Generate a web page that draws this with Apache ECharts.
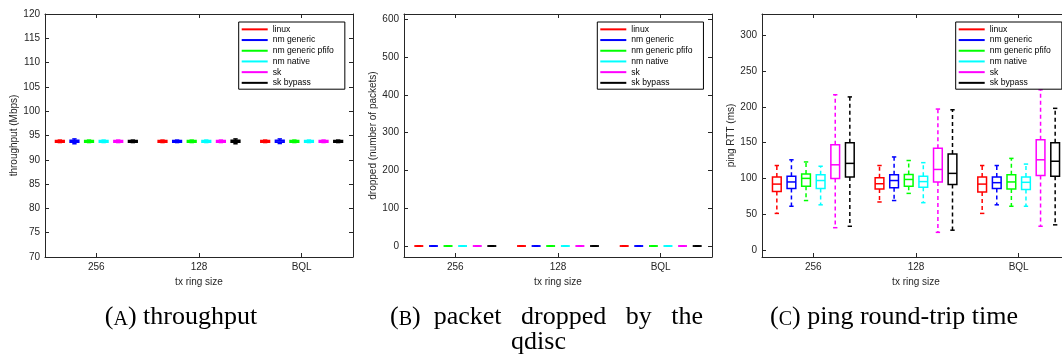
<!DOCTYPE html>
<html>
<head>
<meta charset="utf-8">
<script src="https://cdn.jsdelivr.net/npm/echarts@6/dist/echarts.min.js"></script>
<style>
  html, body { margin: 0; padding: 0; background: #ffffff; }
  #chart { width: 1062px; height: 356px; }
</style>
</head>
<body>
<div id="chart"></div>
<script>
// ---------------- data ----------------
const categories = ['256', '128', 'BQL'];
const seriesNames = ['linux', 'nm generic', 'nm generic pfifo', 'nm native', 'sk', 'sk bypass'];

// tick labels
const throughputTicks = [70, 75, 80, 85, 90, 95, 100, 105, 110, 115, 120];
const droppedTicks = [0, 100, 200, 300, 400, 500, 600];
const rttTicks = [0, 50, 100, 150, 200, 250, 300];

// (A) throughput (Mbps): [min, q1, median, q3, max] for 256, 128, BQL
const tpLinux     = [[93.55, 93.62, 93.8, 93.95, 94.05], [93.55, 93.62, 93.8, 93.95, 94.05], [93.55, 93.62, 93.8, 93.95, 94.05]];
const tpNmGeneric = [[93.3, 93.6, 93.8, 94.0, 94.3],     [93.55, 93.62, 93.8, 93.95, 94.05], [93.35, 93.6, 93.85, 94.0, 94.3]];
const tpNmPfifo   = [[93.55, 93.62, 93.8, 93.95, 94.05], [93.55, 93.62, 93.8, 93.95, 94.05], [93.55, 93.62, 93.8, 93.95, 94.05]];
const tpNmNative  = [[93.55, 93.62, 93.8, 93.95, 94.05], [93.55, 93.62, 93.8, 93.95, 94.05], [93.55, 93.62, 93.8, 93.95, 94.05]];
const tpSk        = [[93.55, 93.62, 93.8, 93.95, 94.05], [93.55, 93.62, 93.8, 93.95, 94.05], [93.55, 93.62, 93.8, 93.95, 94.05]];
const tpSkBypass  = [[93.55, 93.62, 93.8, 93.95, 94.05], [93.3, 93.6, 93.8, 94.0, 94.3],     [93.55, 93.62, 93.8, 93.95, 94.05]];

// (B) packets dropped by the qdisc
const dropLinux     = [[0, 0, 0, 0, 0], [0, 0, 0, 0, 0], [0, 0, 0, 0, 0]];
const dropNmGeneric = [[0, 0, 0, 0, 0], [0, 0, 0, 0, 0], [0, 0, 0, 0, 0]];
const dropNmPfifo   = [[0, 0, 0, 0, 0], [0, 0, 0, 0, 0], [0, 0, 0, 0, 0]];
const dropNmNative  = [[0, 0, 0, 0, 0], [0, 0, 0, 0, 0], [0, 0, 0, 0, 0]];
const dropSk        = [[0, 0, 0, 0, 0], [0, 0, 0, 0, 0], [0, 0, 0, 0, 0]];
const dropSkBypass  = [[0, 0, 0, 0, 0], [0, 0, 0, 0, 0], [0, 0, 0, 0, 0]];

// (C) ping RTT (ms)
const rttLinux     = [[51, 81.5, 92, 102, 118], [67, 85, 92.5, 101, 118],   [51, 81, 92, 102, 118]];
const rttNmGeneric = [[61, 86, 95, 103, 126],   [69, 87, 97, 105, 130],     [63, 86, 94, 102, 118]];
const rttNmPfifo   = [[69, 89, 100, 106, 123],  [79, 89, 98.5, 105.5, 125], [61, 85, 95, 105, 128]];
const rttNmNative  = [[63, 86, 97, 105, 117],   [66, 87.5, 95.5, 103, 122], [61, 84.5, 94.5, 102, 120]];
const rttSk        = [[31, 100, 119, 147, 217], [24.5, 95, 112.5, 142, 197],[33, 104, 126, 154, 224]];
const rttSkBypass  = [[33, 102, 121, 150, 214], [27.5, 91.5, 107, 134, 196],[35, 103, 124, 150, 198]];

// ---------------- style ----------------
const colors = ['#ff0000', '#0000ff', '#00ff00', '#00ffff', '#ff00ff', '#000000'];
const sans = 'Liberation Sans';
const serif = 'Liberation Serif';
const axisColor = '#262626';

function makeRender(k) {
  return function (params, api) {
    const cat = api.value(0);
    const band = api.size([1, 0])[0];
    const cx = api.coord([cat, api.value(3)])[0] + (k - 2.5) * 0.1422 * band;
    const hw = 0.0425 * band;
    const cw = hw * 0.5;
    const y = [1, 2, 3, 4, 5].map(function (d) { return api.coord([cat, api.value(d)])[1]; });
    const color = api.visual('color');
    const solid = { stroke: color, lineWidth: 1.5, fill: null };
    const dash = { stroke: color, lineWidth: 1.5, lineDash: [4, 3], fill: null };
    return {
      type: 'group',
      children: [
        { type: 'line', shape: { x1: cx, y1: y[3], x2: cx, y2: y[4] }, style: dash },
        { type: 'line', shape: { x1: cx, y1: y[1], x2: cx, y2: y[0] }, style: dash },
        { type: 'line', shape: { x1: cx - cw, y1: y[4], x2: cx + cw, y2: y[4] }, style: solid },
        { type: 'line', shape: { x1: cx - cw, y1: y[0], x2: cx + cw, y2: y[0] }, style: solid },
        { type: 'polygon', shape: { points: [[cx - hw, y[1]], [cx + hw, y[1]], [cx + hw, y[3]], [cx - hw, y[3]]] }, style: solid },
        { type: 'line', shape: { x1: cx - hw, y1: y[2], x2: cx + hw, y2: y[2] }, style: solid }
      ]
    };
  };
}

function boxSeries(k, gridIdx, data) {
  return {
    type: 'custom',
    name: seriesNames[k],
    xAxisIndex: gridIdx * 2,
    yAxisIndex: gridIdx * 2,
    data: data.map(function (d, i) { return [i].concat(d); }),
    encode: { x: 0, y: [1, 2, 3, 4, 5] },
    renderItem: makeRender(k),
    itemStyle: { color: colors[k] },
    color: colors[k],
    silent: true,
    z: 3
  };
}

function xAxes(gridIndex) {
  const line = { show: true, onZero: false, lineStyle: { color: axisColor, width: 1 } };
  const tick = { show: true, inside: true, alignWithLabel: true, length: 4, lineStyle: { color: axisColor, width: 1 } };
  return [
    {
      type: 'category', gridIndex: gridIndex, data: categories, position: 'bottom', boundaryGap: true,
      axisLine: line, axisTick: tick,
      axisLabel: { show: true, margin: 5, fontSize: 10, color: axisColor, fontFamily: sans },
      splitLine: { show: false },
      name: 'tx ring size', nameLocation: 'middle', nameGap: 18,
      nameTextStyle: { fontSize: 10, color: axisColor, fontFamily: sans }
    },
    {
      type: 'category', gridIndex: gridIndex, data: categories, position: 'top', boundaryGap: true,
      axisLine: line, axisTick: tick, axisLabel: { show: false }, splitLine: { show: false }
    }
  ];
}

function yAxes(gridIndex, min, max, ticks, name, nameGap) {
  const line = { show: true, onZero: false, lineStyle: { color: axisColor, width: 1 } };
  const tick = { show: true, inside: true, length: 4, customValues: ticks, lineStyle: { color: axisColor, width: 1 } };
  return [
    {
      type: 'value', gridIndex: gridIndex, min: min, max: max, position: 'left',
      axisLine: line, axisTick: tick,
      axisLabel: { show: true, customValues: ticks, margin: 5, fontSize: 10, color: axisColor, fontFamily: sans },
      splitLine: { show: false },
      name: name, nameLocation: 'middle', nameGap: nameGap,
      nameTextStyle: { fontSize: 10, color: axisColor, fontFamily: sans }
    },
    {
      type: 'value', gridIndex: gridIndex, min: min, max: max, position: 'right',
      axisLine: line, axisTick: tick, axisLabel: { show: false }, splitLine: { show: false }
    }
  ];
}

function makeLegend(left) {
  return {
    left: left, top: 22, orient: 'vertical', data: seriesNames, icon: 'rect',
    itemWidth: 26, itemHeight: 2, itemGap: 0, padding: [2, 11, 1, 3],
    backgroundColor: '#ffffff', borderColor: '#000000', borderWidth: 1, borderRadius: 0,
    textStyle: { fontSize: 8.6, lineHeight: 10.7, color: '#000000', fontFamily: sans },
    selectedMode: false, z: 10
  };
}

function caption(x, y, letter, rest, align) {
  return {
    type: 'text', x: x, y: y, z: 20,
    style: {
      text: '{n|(}{sc|' + letter + '}{n|' + rest + '}',
      align: align, verticalAlign: 'middle',
      rich: {
        n: { fontSize: 26, lineHeight: 26, fontFamily: serif, fill: '#000000' },
        sc: { fontSize: 20, lineHeight: 22, fontFamily: serif, fill: '#000000', verticalAlign: 'bottom' }
      }
    }
  };
}

const gridBase = { top: 14, width: 308, height: 243, containLabel: false, outerBoundsMode: 'none' };

const option = {
  backgroundColor: '#ffffff',
  animation: false,
  grid: [
    Object.assign({ left: 45 }, gridBase),
    Object.assign({ left: 404 }, gridBase),
    Object.assign({ left: 762 }, gridBase)
  ],
  xAxis: [].concat(xAxes(0), xAxes(1), xAxes(2)),
  yAxis: [].concat(
    yAxes(0, 70, 120, throughputTicks, 'throughput (Mbps)', 25),
    yAxes(1, -29, 614, droppedTicks, 'dropped (number of packets)', 24),
    yAxes(2, -10, 330, rttTicks, 'ping RTT (ms)', 23)
  ),
  legend: [makeLegend(238.7), makeLegend(597.3), makeLegend(955.7)],
  series: [
    boxSeries(0, 0, tpLinux), boxSeries(1, 0, tpNmGeneric), boxSeries(2, 0, tpNmPfifo),
    boxSeries(3, 0, tpNmNative), boxSeries(4, 0, tpSk), boxSeries(5, 0, tpSkBypass),
    boxSeries(0, 1, dropLinux), boxSeries(1, 1, dropNmGeneric), boxSeries(2, 1, dropNmPfifo),
    boxSeries(3, 1, dropNmNative), boxSeries(4, 1, dropSk), boxSeries(5, 1, dropSkBypass),
    boxSeries(0, 2, rttLinux), boxSeries(1, 2, rttNmGeneric), boxSeries(2, 2, rttNmPfifo),
    boxSeries(3, 2, rttNmNative), boxSeries(4, 2, rttSk), boxSeries(5, 2, rttSkBypass)
  ],
  graphic: [
    caption(181, 317, 'A', ') throughput', 'center'),
    caption(390, 317, 'B', ')  packet   dropped   by   the', 'left'),
    { type: 'text', x: 538.5, y: 342, z: 20,
      style: { text: 'qdisc', align: 'center', verticalAlign: 'middle', fontSize: 26, fontFamily: serif, fill: '#000000' } },
    caption(770, 317, 'C', ') ping round-trip time', 'left')
  ]
};

const chart = echarts.init(document.getElementById('chart'), null, { renderer: 'canvas' });
chart.setOption(option);
</script>
</body>
</html>
